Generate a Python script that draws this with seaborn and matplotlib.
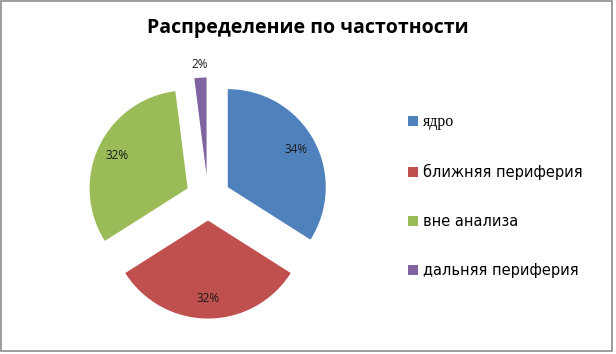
import seaborn as sns
import matplotlib.pyplot as plt
from matplotlib.patches import Rectangle
from matplotlib.lines import Line2D
import numpy as np

categories = ['ядро', 'ближняя периферия', 'вне анализа', 'дальняя периферия']
shares = [34, 32, 32, 2]
colors = ['#4F81BD', '#C0504D', '#9BBB59', '#8064A2']
title = 'Распределение по частотности'

sns.set_theme(style='white')
plt.rcParams['font.family'] = ['DejaVu Sans']
plt.rcParams['text.color'] = 'black'

fig = plt.figure(figsize=(6.16, 3.54), dpi=100)
W, H = 616, 354

# pie area: centre (208, 198) px, radius 98 px
cx, cy, r = 208, 198, 98
half = 1.5 * r
ax = fig.add_axes([(cx - half) / W, (H - cy - half) / H, 2 * half / W, 2 * half / H])

wedges, texts, autotexts = ax.pie(
    shares, colors=colors, startangle=90, counterclock=False,
    explode=[0.23] * len(shares), radius=1.0,
    autopct='%1.0f%%', pctdistance=0.8,
    textprops={'fontsize': 8.5, 'color': '#1a1a1a', 'family': 'Open Sans'},
    wedgeprops={'linewidth': 0})

# small slice label goes outside, like Excel does
small = int(np.argmin(shares))
w = wedges[small]
ang = np.deg2rad((w.theta1 + w.theta2) / 2)
ox, oy = w.center
autotexts[small].set_position((ox + 1.13 * np.cos(ang), oy + 1.13 * np.sin(ang)))

ax.set_xlim(-1.5, 1.5)
ax.set_ylim(-1.5, 1.5)
ax.set_aspect('equal')
ax.axis('off')

fig.text(308 / W, 1 - 28 / H, title, ha='center', va='center', color='black',
         fontsize=14, fontweight='bold', family='Open Sans')

handles = [Line2D([0], [0], marker='s', linestyle='', markersize=7,
                  markerfacecolor=c, markeredgewidth=0) for c in colors]
leg = fig.legend(handles, categories, loc='upper left',
                 bbox_to_anchor=(400 / W, 1 - 107 / H), frameon=False,
                 fontsize=10.5, labelspacing=2.33, handlelength=0.8,
                 handletextpad=0.3, borderpad=0, labelcolor='black')
leg.get_texts()[0].set_family('Liberation Serif')
leg.get_texts()[0].set_fontsize(11.5)

fig.add_artist(Rectangle((1 / W, 3 / H), 611 / W, 350 / H, transform=fig.transFigure,
                         fill=False, edgecolor='#8c8c8c', linewidth=1.2))

fig.savefig('out.png', dpi=100)
